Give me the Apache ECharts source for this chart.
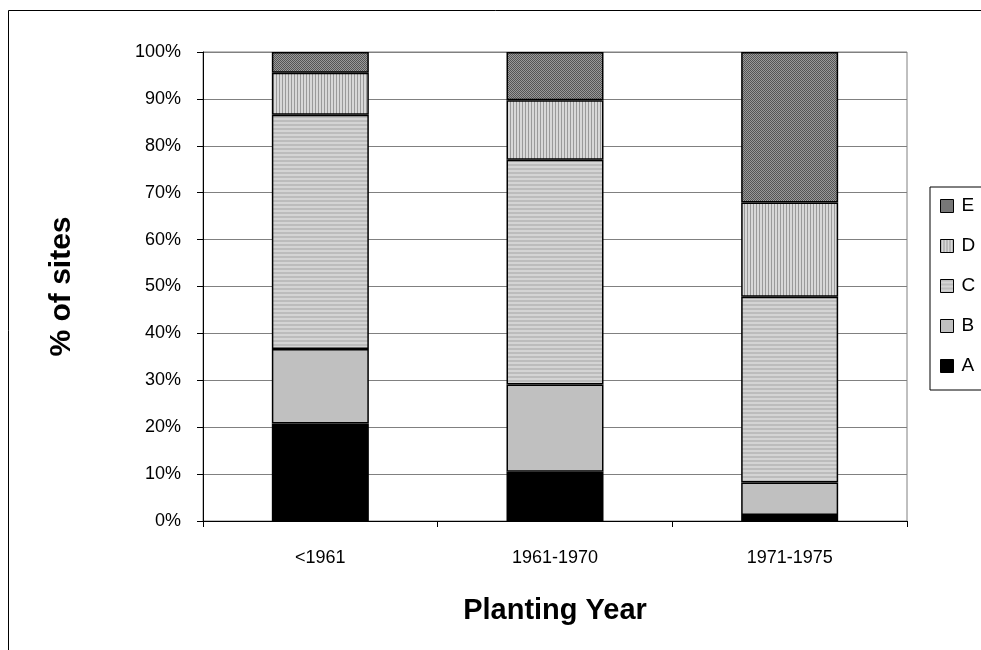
<!DOCTYPE html>
<html>
<head>
<meta charset="utf-8">
<script src="https://cdn.jsdelivr.net/npm/echarts@6/dist/echarts.min.js"></script>
<style>
  html, body { margin: 0; padding: 0; background: #fff; }
  #main { width: 981px; height: 650px; }
</style>
</head>
<body>
<div id="main"></div>
<script>
const categories = ['<1961', '1961-1970', '1971-1975']
const seriesNames = ['A', 'B', 'C', 'D', 'E']
const valuesA = [20.8, 10.5, 1.3]
const valuesB = [15.9, 18.6, 6.9]
const valuesC = [49.9, 47.9, 39.6]
const valuesD = [9.0, 12.7, 20.1]
const valuesE = [4.4, 10.3, 32.1]
const yTicks = [0, 10, 20, 30, 40, 50, 60, 70, 80, 90, 100]

// small canvas patterns like the old excel fills
function makePattern(w, h, draw) {
  const c = document.createElement('canvas')
  c.width = w
  c.height = h
  const ctx = c.getContext('2d')
  draw(ctx)
  return {image: c, repeat: 'repeat'}
}
const fillE = makePattern(2, 2, ctx => {
  ctx.fillStyle = '#9a9a9a'
  ctx.fillRect(0, 0, 2, 2)
  ctx.fillStyle = '#555555'
  ctx.fillRect(0, 0, 1, 1)
  ctx.fillRect(1, 1, 1, 1)
})
const fillD = makePattern(3, 3, ctx => {
  ctx.fillStyle = '#d8d8d8'
  ctx.fillRect(0, 0, 3, 3)
  ctx.fillStyle = '#9a9a9a'
  ctx.fillRect(0, 0, 1, 3)
})
const fillC = makePattern(4, 4, ctx => {
  ctx.fillStyle = '#d4d4d4'
  ctx.fillRect(0, 0, 4, 4)
  ctx.fillStyle = '#bcbcbc'
  ctx.fillRect(0, 0, 4, 2)
})
const fills = ['#000000', '#c0c0c0', fillC, fillD, fillE]
const allValues = [valuesA, valuesB, valuesC, valuesD, valuesE]

const chart = echarts.init(document.getElementById('main'))
const font = '"Liberation Sans", Arial, sans-serif'

const option = {
  animation: false,
  backgroundColor: '#fff',
  textStyle: {fontFamily: font},
  graphic: [
    {
      type: 'rect',
      shape: {x: 8.5, y: 10.5, width: 1200, height: 900},
      style: {fill: 'none', stroke: '#000', lineWidth: 1},
      silent: true
    }
  ],
  grid: {
    left: 203,
    right: 74,
    top: 52,
    bottom: 129,
    show: true,
    borderColor: '#808080',
    borderWidth: 1
  },
  legend: {
    data: ['E', 'D', 'C', 'B', 'A'],
    orient: 'vertical',
    left: 930,
    top: 187,
    padding: [9, 60, 14, 10],
    itemGap: 20,
    itemWidth: 13,
    itemHeight: 13,
    icon: 'rect',
    borderColor: '#000',
    borderWidth: 1,
    backgroundColor: '#fff',
    textStyle: {fontSize: 19, color: '#000', fontFamily: font, padding: [0, 0, 0, 3], lineHeight: 20, height: 20},
    itemStyle: {borderColor: '#000', borderWidth: 1}
  },
  xAxis: {
    type: 'category',
    data: categories,
    name: 'Planting Year',
    nameLocation: 'middle',
    nameGap: 75,
    nameTextStyle: {fontSize: 29, fontWeight: 'bold', color: '#000', fontFamily: font},
    axisLine: {lineStyle: {color: '#000', width: 1}},
    axisTick: {show: true, length: 6, lineStyle: {color: '#000'}},
    axisLabel: {fontSize: 18, color: '#000', margin: 28, fontFamily: font},
    splitLine: {show: false}
  },
  yAxis: {
    type: 'value',
    min: 0,
    max: 100,
    interval: 10,
    name: '% of sites',
    nameLocation: 'middle',
    nameGap: 126,
    nameRotate: 90,
    nameTextStyle: {fontSize: 30, fontWeight: 'bold', color: '#000', fontFamily: font},
    axisLine: {show: true, lineStyle: {color: '#000', width: 1}},
    axisTick: {show: true, length: 6, lineStyle: {color: '#000'}},
    axisLabel: {
      fontSize: 18,
      color: '#000',
      margin: 22,
      fontFamily: font,
      formatter: v => (yTicks.indexOf(v) >= 0 ? v + '%' : '')
    },
    splitLine: {show: true, lineStyle: {color: '#808080', width: 1}}
  },
  series: seriesNames.map((name, i) => ({
    name: name,
    type: 'bar',
    stack: 'total',
    barWidth: 97,
    data: allValues[i],
    itemStyle: {color: fills[i], borderColor: '#000', borderWidth: 1.5}
  }))
}

chart.setOption(option)
</script>
</body>
</html>
